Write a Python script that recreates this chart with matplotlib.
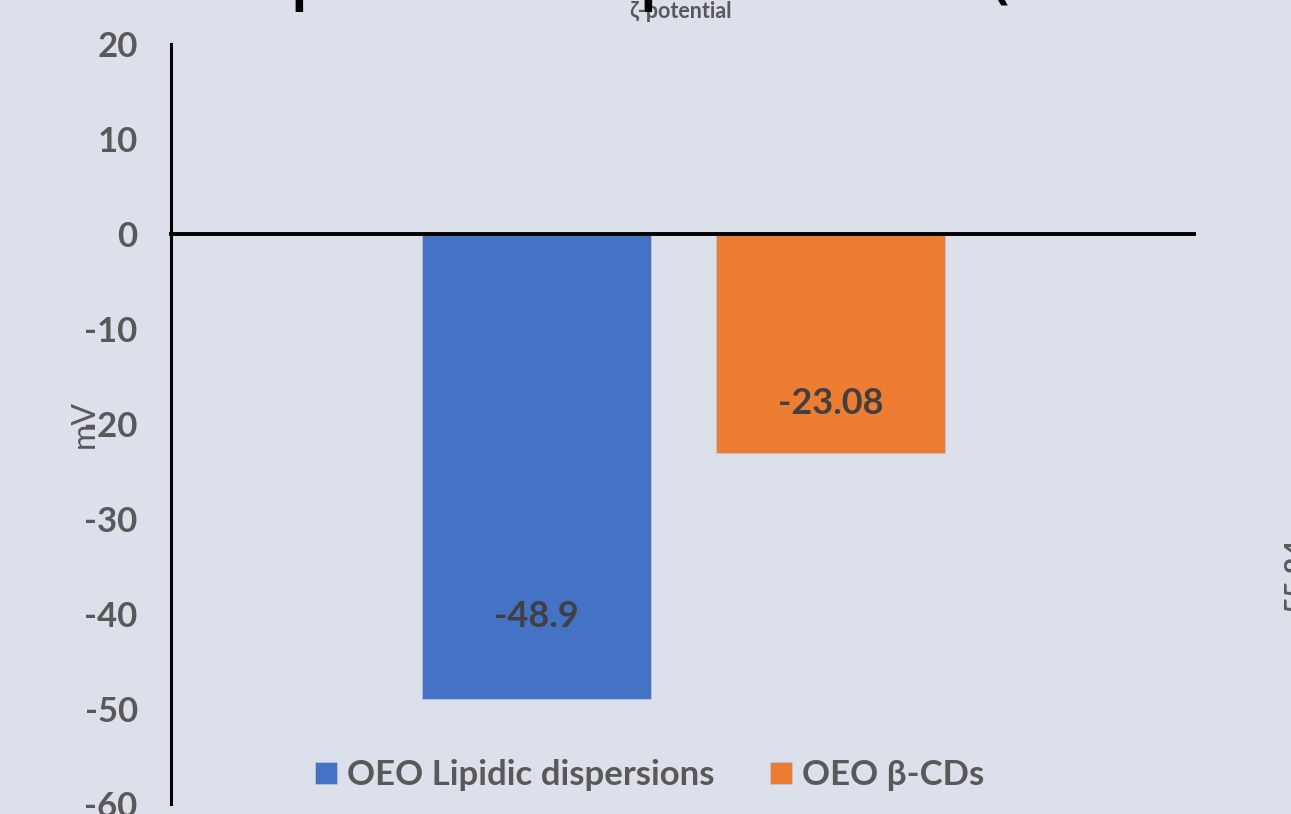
import numpy as np
import matplotlib.pyplot as plt

# zeta potential of the two OEO formulations (mV)
series = ['OEO Lipidic dispersions', 'OEO β-CDs']
zeta_mv = [-48.9, -23.08]
label_text = ['-48.9', '-23.08']
yticks = [20, 10, 0, -10, -20, -30, -40, -50, -60]

colors = ['#4472C4', '#ED7D31']
label_lift = [8.6, 5.2]   # how far above the bar end each value label sits
bg = '#DCE0EB'
grey = '#595959'

plt.rcParams['font.family'] = ['Lato', 'DejaVu Sans']
plt.rcParams['font.weight'] = 'bold'

fig = plt.figure(figsize=(12.91, 8.14), dpi=100, facecolor=bg)
ax = fig.add_axes([0.1325, 0.0123, 0.7924, 0.9337])
ax.set_facecolor(bg)

width = 0.224
offsets = [-0.143, 0.1445]
for off, val, col, name in zip(offsets, zeta_mv, colors, series):
    ax.bar(off, val, width=width, color=col, edgecolor='#B8C4E0', linewidth=0.6,
           label=name, zorder=2)

for off, val, txt, lift in zip(offsets, zeta_mv, label_text, label_lift):
    ax.text(off, val + lift, txt, ha='center', va='center', fontsize=26,
            fontweight='bold', color='#404040', zorder=3)

ax.set_xlim(-0.5, 0.5)
ax.set_ylim(-60, 20)
ax.set_yticks(yticks)
ax.set_yticklabels([str(t) for t in yticks], fontsize=25, color=grey)
ax.tick_params(axis='y', length=0, pad=24)
ax.set_xticks([])

for s in ['top', 'right']:
    ax.spines[s].set_visible(False)
ax.spines['left'].set_linewidth(2.2)
ax.spines['left'].set_color('black')
ax.spines['bottom'].set_position(('data', 0))
ax.spines['bottom'].set_linewidth(2.8)
ax.spines['bottom'].set_color('black')
ax.spines['bottom'].set_zorder(4)

ax.set_ylabel('mV', fontsize=23, color=grey)
ax.yaxis.set_label_coords(-0.07, 0.5, transform=ax.transAxes)

leg = ax.legend(loc='center', bbox_to_anchor=(650 / 1291, 1 - 775 / 814),
                bbox_transform=fig.transFigure, ncol=2, frameon=False,
                fontsize=25, handlelength=0.62, handleheight=0.62,
                handletextpad=0.3, columnspacing=1.6)
for t in leg.get_texts():
    t.set_color(grey)

fig.text(681 / 1291, 1 - 12 / 814, 'ζ-potential', ha='center', va='center',
         fontsize=15.5, color=grey)

# pieces of the large heading above, cut off by the top edge
for x, ch in [(287, 'p'), (636, 'p'), (982, '(')]:
    fig.text(x / 1291, 1 + 5 / 814, ch, ha='left', va='baseline', fontsize=60,
             fontweight='normal', color='black', family='DejaVu Sans')

# rotated value label cut off at the right edge
fig.text(1284 / 1291, 1 - 612 / 814, '55.84', rotation=90, ha='left',
         va='bottom', fontsize=21, color=grey)

fig.savefig('out.png', dpi=100, facecolor=bg)
